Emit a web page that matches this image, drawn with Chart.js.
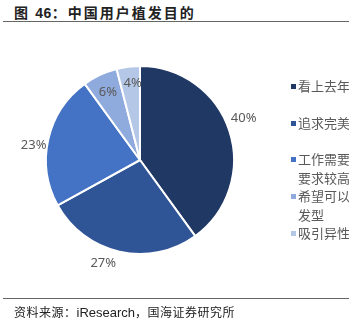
<!DOCTYPE html>
<html>
<head>
<meta charset="utf-8">
<script src="https://cdn.jsdelivr.net/npm/chart.js@4/dist/chart.umd.min.js"></script>
<style>
  body { margin: 0; width: 349px; height: 324px; background: #fff; position: relative; overflow: hidden; font-family: "Noto Sans CJK SC", sans-serif; }
  #title { position: absolute; left: 14px; top: 2px; font-size: 14px; font-weight: bold; color: #222; letter-spacing: 2px; }
  #title .num { font-family: "Liberation Sans", Arial, sans-serif; letter-spacing: 0.5px; }
  .rule { position: absolute; left: 3px; right: 0; height: 1px; background: #666; }
  #source { position: absolute; left: 14px; top: 303px; font-size: 12px; color: #222; letter-spacing: 0.5px; }
  #source .en { font-family: "Liberation Sans", Arial, sans-serif; font-size: 13px; letter-spacing: 0; }
  #chart-wrap { position: absolute; left: 0; top: 0; width: 349px; height: 324px; }
  #legend { position: absolute; left: 291px; top: 77px; font-size: 13px; color: #595959; line-height: 18.5px; }
  #legend .item { position: relative; padding-left: 7px; width: 54px; }
  #legend .box { position: absolute; left: 0; top: 7px; width: 5px; height: 5px; }
</style>
</head>
<body>
<div id="title">图 <span class="num">46</span>：中国用户植发目的</div>
<div class="rule" style="top:21px"></div>
<div id="chart-wrap"><canvas id="pie-chart" width="349" height="324"></canvas></div>
<div id="legend"></div>
<div class="rule" style="top:298px"></div>
<div id="source">资料来源：<span class="en">iResearch</span>，国海证券研究所</div>

<script>
// 数据
const categories = ['看上去年', '追求完美', '工作需要要求较高', '希望可以发型', '吸引异性'];
const values = [40, 27, 23, 6, 4];
const pctLabels = ['40%', '27%', '23%', '6%', '4%'];
const colors = ['#203864', '#2F5597', '#4472C4', '#8FAADC', '#B4C7E7'];
// legend lines (wrapped like the original)
const legendLines = [['看上去年'], ['追求完美'], ['工作需要', '要求较高'], ['希望可以', '发型'], ['吸引异性']];
const legendGaps = [0, 18, 18, 0, 0];

// label nudges (px) to mimic Excel "best fit" placement
const labelNudge = [[0, -8], [-13, -3], [0, 9], [0, 0], [2, -2]];

// 百分比标签插件
const pctLabelPlugin = {
    id: 'pctLabels',
    afterDatasetsDraw(chart) {
        const ctx = chart.ctx;
        const meta = chart.getDatasetMeta(0);
        ctx.save();
        ctx.font = '13px "Noto Sans", "Liberation Sans", sans-serif';
        ctx.fillStyle = '#595959';
        ctx.textAlign = 'center';
        ctx.textBaseline = 'middle';
        meta.data.forEach(function (arc, i) {
            const p = arc.getProps(['x', 'y', 'startAngle', 'endAngle', 'outerRadius'], true);
            const mid = (p.startAngle + p.endAngle) / 2;
            const r = values[i] >= 10 ? p.outerRadius + 15 : p.outerRadius * 0.8;
            const x = p.x + Math.cos(mid) * r + labelNudge[i][0];
            const y = p.y + Math.sin(mid) * r + labelNudge[i][1];
            ctx.fillText(pctLabels[i], x, y);
        });
        ctx.restore();
    }
};

document.addEventListener('DOMContentLoaded', function () {
    const ctx = document.getElementById('pie-chart').getContext('2d');
    new Chart(ctx, {
        type: 'pie',
        data: {
            labels: categories,
            datasets: [{
                data: values,
                backgroundColor: colors,
                borderColor: '#ffffff',
                borderWidth: 2
            }]
        },
        options: {
            responsive: false,
            animation: false,
            layout: { padding: { left: 45, top: 65, right: 114, bottom: 69 } },
            plugins: {
                legend: { display: false },
                tooltip: { enabled: false }
            }
        },
        plugins: [pctLabelPlugin]
    });

    // 图例
    const legend = document.getElementById('legend');
    legendLines.forEach(function (lines, i) {
        const item = document.createElement('div');
        item.className = 'item';
        item.style.marginTop = legendGaps[i] + 'px';
        item.innerHTML = '<span class="box" style="background:' + colors[i] + '"></span>' + lines.join('<br>');
        legend.appendChild(item);
    });
});
</script>
</body>
</html>
